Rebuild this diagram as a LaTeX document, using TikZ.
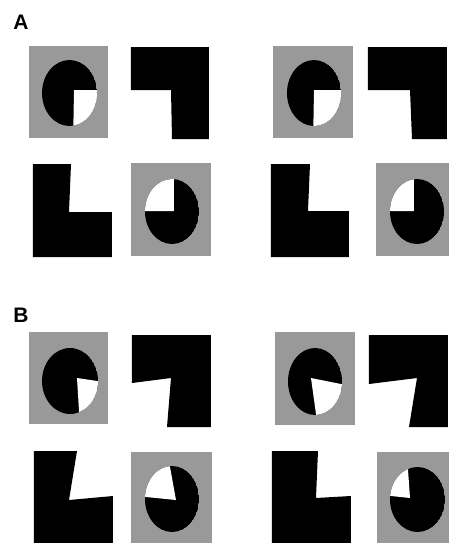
\documentclass[tikz,border=0pt]{standalone}
\usepackage{fontspec}
\setsansfont{Liberation Sans}
\usepackage{tikz}
\usetikzlibrary{positioning}

\definecolor{cardgray}{RGB}{153,153,153}

\begin{document}
\begin{tikzpicture}[
        x=0.5pt, y=-0.5pt,
        card/.style={fill=cardgray},
        disc/.style={fill=black},
        corner/.style={fill=black},
        mouth/.style={fill=white},
        tag/.style={font=\sffamily\bfseries\fontsize{10.5}{12}\selectfont, inner sep=0pt}
    ]
        \clip (0,0) rectangle (449,543);
        \fill[white] (0,0) rectangle (449,543);

        % Panel labels
        \node[tag] (tagA) at (21,22.5) {A};
        \node[tag] (tagB) at (21,315) {B};

        % A, left pair
        \fill[card] (29,46) rectangle (108,138);
        \begin{scope}
            \clip (69.5,93) ellipse [x radius=27.5, y radius=33];
            \fill[disc] (69.5,93) ellipse [x radius=27.5, y radius=33];
            \fill[mouth] (74,90) -- ++(0:80) arc[start angle=0, end angle=91, radius=80] -- cycle;
        \end{scope}
        \fill[corner] (131,47) -- (209,47) -- (209,139) -- (172,139) -- (171,90) -- (131,90) -- cycle;
        \fill[corner] (33,164) -- (71,164) -- (69,212) -- (112,212) -- (112,257) -- (33,257) -- cycle;
        \fill[card] (131,163) rectangle (211,256);
        \begin{scope}
            \clip (172,211.5) ellipse [x radius=27, y radius=32.5];
            \fill[disc] (172,211.5) ellipse [x radius=27, y radius=32.5];
            \fill[mouth] (174,211) -- ++(180:80) arc[start angle=180, end angle=270, radius=80] -- cycle;
        \end{scope}

        % A, right pair
        \fill[card] (273,46) rectangle (353,138);
        \begin{scope}
            \clip (314,93) ellipse [x radius=27, y radius=33];
            \fill[disc] (314,93) ellipse [x radius=27, y radius=33];
            \fill[mouth] (314,90) -- ++(0:80) arc[start angle=0, end angle=91, radius=80] -- cycle;
        \end{scope}
        \fill[corner] (368,47) -- (447,47) -- (447,139) -- (412,139) -- (410,90) -- (368,90) -- cycle;
        \fill[corner] (271,164) -- (310,164) -- (308,211) -- (349,211) -- (349,257) -- (271,257) -- cycle;
        \fill[card] (376,163) rectangle (456,256);
        \begin{scope}
            \clip (417,211.5) ellipse [x radius=27, y radius=32.5];
            \fill[disc] (417,211.5) ellipse [x radius=27, y radius=32.5];
            \fill[mouth] (414,211) -- ++(180:80) arc[start angle=180, end angle=270, radius=80] -- cycle;
        \end{scope}

        % B, left pair
        \fill[card] (29,332) rectangle (108,424);
        \begin{scope}
            \clip (70,381) ellipse [x radius=28, y radius=33];
            \fill[disc] (70,381) ellipse [x radius=28, y radius=33];
            \fill[mouth] (77,378) -- ++(8.5:80) arc[start angle=8.5, end angle=86.5, radius=80] -- cycle;
        \end{scope}
        \fill[corner] (132,335) -- (211,335) -- (211,427) -- (167,427) -- (171,378) -- (132,383) -- cycle;
        \fill[corner] (34,451) -- (77,451) -- (69,500) -- (113,496) -- (113,560) -- (34,560) -- cycle;
        \fill[card] (131,452) rectangle (212,560);
        \begin{scope}
            \clip (172,499) ellipse [x radius=27, y radius=33];
            \fill[disc] (172,499) ellipse [x radius=27, y radius=33];
            \fill[mouth] (176,500) -- ++(185.7:80) arc[start angle=185.7, end angle=259.7, radius=80] -- cycle;
        \end{scope}

        % B, right pair
        \fill[card] (275,332) rectangle (355,425);
        \begin{scope}
            \clip (315,381.5) ellipse [x radius=27, y radius=33.5];
            \fill[disc] (315,381.5) ellipse [x radius=27, y radius=33.5];
            \fill[mouth] (311,378) -- ++(11.3:80) arc[start angle=11.3, end angle=82.1, radius=80] -- cycle;
        \end{scope}
        \fill[corner] (369,335) -- (448,335) -- (448,427) -- (409,427) -- (417,378) -- (369,384) -- cycle;
        \fill[corner] (272,451) -- (318,451) -- (316,498) -- (351,496) -- (351,560) -- (272,560) -- cycle;
        \fill[card] (377,452) rectangle (457,560);
        \begin{scope}
            \clip (417.5,499.5) ellipse [x radius=27.5, y radius=32.5];
            \fill[disc] (417.5,499.5) ellipse [x radius=27.5, y radius=32.5];
            \fill[mouth] (410,498) -- ++(186:80) arc[start angle=186, end angle=266, radius=80] -- cycle;
        \end{scope}
    \end{tikzpicture}
\end{document}
